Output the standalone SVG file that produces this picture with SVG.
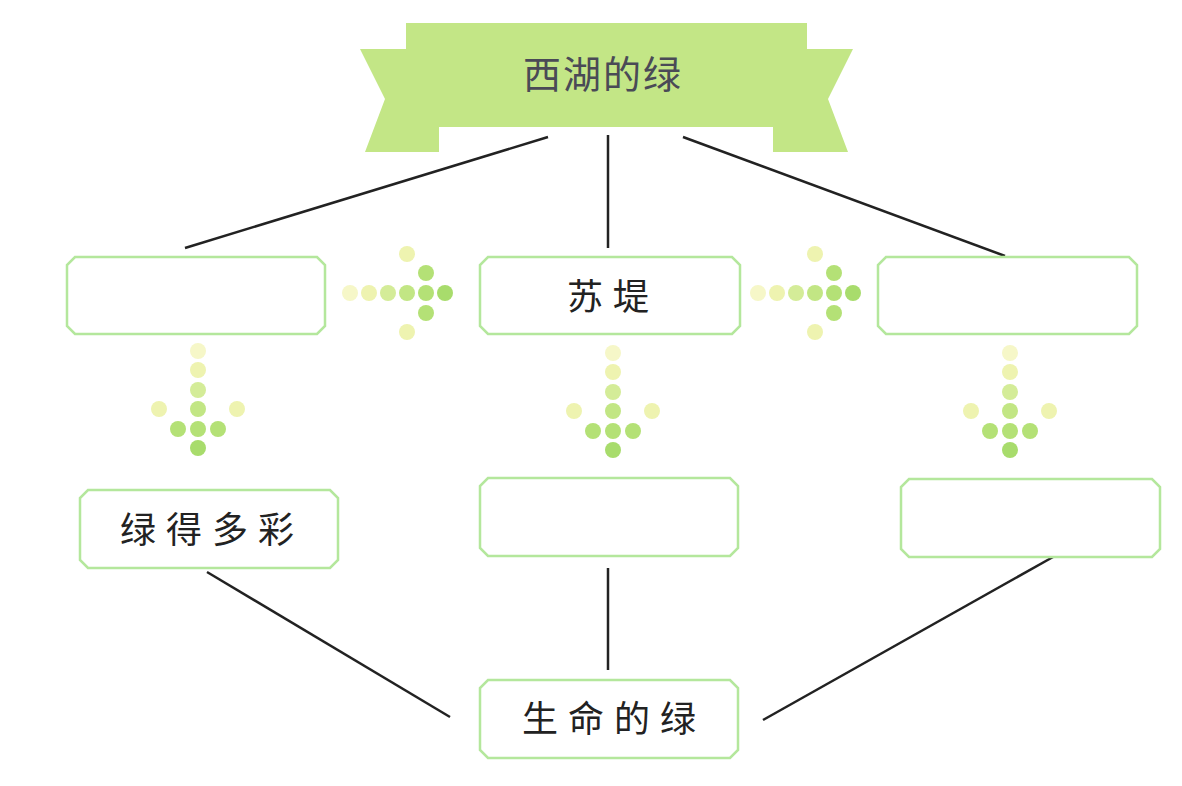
<svg xmlns="http://www.w3.org/2000/svg" width="1182" height="786" viewBox="0 0 1182 786">
<style>
.box{fill:#ffffff;stroke:#b4e79c;stroke-width:2.5}
.lbl{font-family:"Noto Sans CJK SC",sans-serif;font-size:36px;fill:#222;text-anchor:middle;letter-spacing:10px}
.ln{stroke:#222;stroke-width:2.5;fill:none}
.d1{fill:#f6f7c8}.d2{fill:#eef3b0}.d3{fill:#d4ec98}.d4{fill:#c2e684}.d5{fill:#b4e176}.d6{fill:#a8dc6c}
</style>
<defs>
<g id="arrR">
<circle class="d1" cx="0" cy="0" r="8"/><circle class="d2" cx="19" cy="0" r="8"/><circle class="d3" cx="38" cy="0" r="8"/><circle class="d4" cx="57" cy="0" r="8"/><circle class="d5" cx="76" cy="0" r="8"/><circle class="d6" cx="95" cy="0" r="8"/>
<circle class="d5" cx="76" cy="-20" r="8"/><circle class="d5" cx="76" cy="20" r="8"/>
<circle class="d2" cx="57" cy="-39" r="8"/><circle class="d2" cx="57" cy="39" r="8"/>
</g>
<g id="arrD">
<circle class="d1" cx="0" cy="0" r="8"/><circle class="d2" cx="0" cy="19" r="8"/><circle class="d3" cx="0" cy="39" r="8"/><circle class="d4" cx="0" cy="58" r="8"/><circle class="d5" cx="0" cy="78" r="8"/><circle class="d6" cx="0" cy="97" r="8"/>
<circle class="d5" cx="-20" cy="78" r="8"/><circle class="d5" cx="20" cy="78" r="8"/>
<circle class="d2" cx="-39" cy="58" r="8"/><circle class="d2" cx="39" cy="58" r="8"/>
</g>
</defs>
<rect width="1182" height="786" fill="#ffffff"/>
<g id="title">
<polygon fill="#c3e686" points="360,49 406,49 406,23 807,23 807,49 853,49 828,99 848,152 773,152 773,127 439,127 439,152 365,152 385,99"/>
<text x="603" y="88" font-family="'Noto Sans CJK SC',sans-serif" font-size="38" fill="#4a4a56" text-anchor="middle" letter-spacing="2">西湖的绿</text>
</g>
<g id="connectors">
<line class="ln" x1="548" y1="137" x2="185" y2="248"/>
<line class="ln" x1="608" y1="135" x2="608" y2="248"/>
<line class="ln" x1="683" y1="137" x2="1005" y2="256"/>
<line class="ln" x1="207" y1="572" x2="450" y2="717"/>
<line class="ln" x1="608" y1="568" x2="608" y2="670"/>
<line class="ln" x1="1053" y1="557" x2="763" y2="720"/>
</g>
<g id="arrows">
<use href="#arrR" x="350" y="293"/>
<use href="#arrR" x="758" y="293"/>
<use href="#arrD" x="198" y="351"/>
<use href="#arrD" x="613" y="353"/>
<use href="#arrD" x="1010" y="353"/>
</g>
<g id="box1"><polygon class="box" points="75,257 317,257 325,265 325,326 317,334 75,334 67,326 67,265"/></g>
<g id="box2"><polygon class="box" points="488,257 732,257 740,265 740,326 732,334 488,334 480,326 480,265"/><text class="lbl" x="613" y="310">苏堤</text></g>
<g id="box3"><polygon class="box" points="886,257 1129,257 1137,265 1137,326 1129,334 886,334 878,326 878,265"/></g>
<g id="box4"><polygon class="box" points="88,490 330,490 338,498 338,560 330,568 88,568 80,560 80,498"/><text class="lbl" x="212" y="543">绿得多彩</text></g>
<g id="box5"><polygon class="box" points="488,478 730,478 738,486 738,548 730,556 488,556 480,548 480,486"/></g>
<g id="box6"><polygon class="box" points="909,479 1152,479 1160,487 1160,549 1152,557 909,557 901,549 901,487"/></g>
<g id="box7"><polygon class="box" points="488,680 730,680 738,688 738,750 730,758 488,758 480,750 480,688"/><text class="lbl" x="614" y="732">生命的绿</text></g>
</svg>
